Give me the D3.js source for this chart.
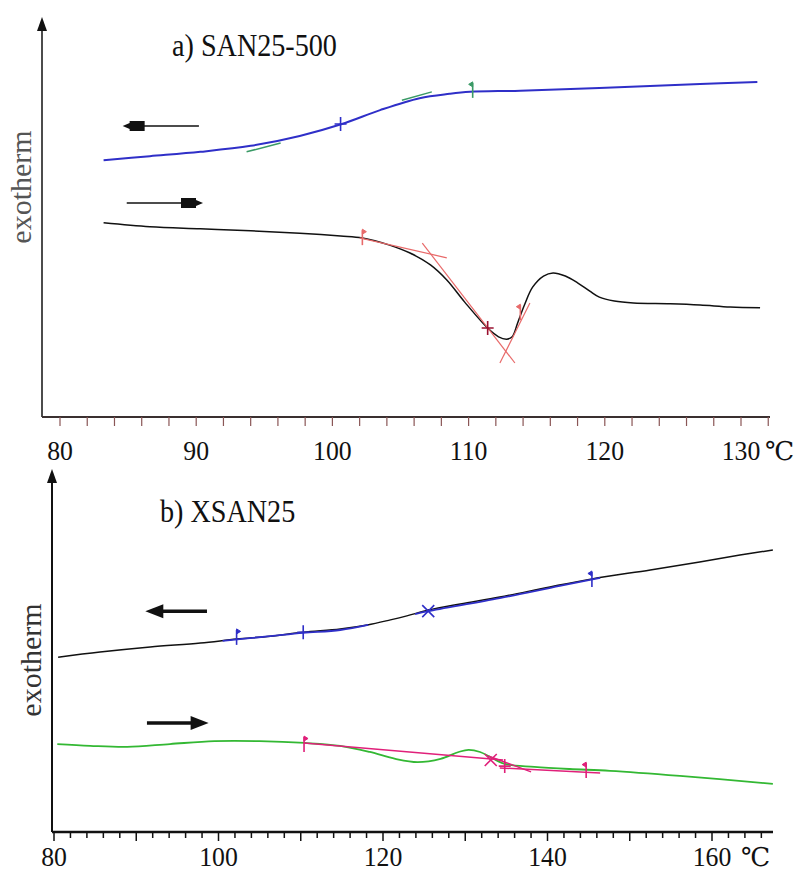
<!DOCTYPE html>
<html>
<head>
<meta charset="utf-8">
<script src="https://cdn.jsdelivr.net/npm/d3@7"></script>
<style>
body { margin: 0; background: #fff; }
svg { display: block; }
text { font-family: "Liberation Serif", "Times New Roman", "DejaVu Serif", serif; }
</style>
</head>
<body>
<svg id="chart" width="797" height="873"></svg>
<script>
// ---- a) SAN25-500 : [temperature °C, signal (arb.)] ----
var coolA = [[83.2,6.47],[86.6,6.57],[90.3,6.68],[94.0,6.83],[97.6,7.08],[100.7,7.38],[103.5,7.73],
             [106.4,8.03],[108.6,8.14],[110.1,8.19],[113.8,8.22],[119.6,8.29],[127.0,8.39],[131.2,8.44]];
var heatA = [[83.2,4.89],[86.6,4.79],[90.3,4.74],[94.0,4.69],[97.6,4.63],[100.6,4.56],[102.2,4.51],
             [104.2,4.33],[105.7,4.13],[107.2,3.83],[108.4,3.45],[109.7,2.90],[111.4,2.24],[112.2,2.02],
             [112.8,1.96],[113.2,2.02],[113.6,2.37],[114.1,2.82],[114.7,3.27],[115.5,3.55],[116.2,3.63],
             [117.1,3.55],[118.0,3.38],[118.9,3.17],[119.6,3.02],[120.7,2.92],[122.1,2.87],[124.8,2.85],
             [127.0,2.82],[129.2,2.77],[131.4,2.75]];
var tangentsA_green = [[[93.7,6.68],[96.2,6.90]], [[105.1,7.98],[107.3,8.19]]];
var tangentsA_red = [[[102.0,4.51],[108.4,4.01]], [[106.6,4.38],[113.4,1.36]], [[112.3,1.36],[114.5,2.87]]];
var markersA = [
    {t: 100.6, v: 7.38, type: 'plus', color: 'blue'},
    {t: 110.3, v: 8.24, type: 'flag', dir: -1, color: 'green'},
    {t: 102.2, v: 4.53, type: 'flag', dir: 1, color: 'red'},
    {t: 111.4, v: 2.24, type: 'plus', color: 'darkred'},
    {t: 113.8, v: 2.64, type: 'flag', dir: -1, color: 'red'}
];
var arrowsA = [{from: 90.2, to: 84.6, v: 7.33}, {from: 84.9, to: 90.5, v: 5.39}];
var ticksA = d3.range(80, 133, 2);
var labelsA = [80, 90, 100, 110, 120, 130];

// ---- b) XSAN25 ----
var coolB = [[80.5,4.83],[85.6,4.97],[91.7,5.11],[97.8,5.22],[102.2,5.33],[106.3,5.41],[110.3,5.52],
             [114.8,5.61],[118.1,5.72],[120.9,5.86],[122.9,5.97],[125.5,6.13],[129.4,6.30],[134.2,6.49],
             [140.3,6.77],[145.4,6.99],[152.5,7.24],[158.5,7.46],[163.4,7.65],[167.4,7.79]];
var heatB = [[80.4,2.43],[84.4,2.38],[88.9,2.35],[94.1,2.43],[99.5,2.51],[105.0,2.51],[110.5,2.46],
             [114.8,2.38],[118.4,2.21],[121.5,2.02],[124.2,1.93],[127.0,2.02],[129.2,2.21],[130.4,2.27],
             [131.8,2.21],[133.3,2.04],[134.8,1.88],[138.4,1.80],[142.7,1.74],[147.6,1.69],[156.1,1.55],
             [167.4,1.33]];
var fitsB_blue = [[[100.5,5.28],[106.3,5.41],[110.3,5.50],[114.8,5.58],[118.2,5.72]],
                  [[123.9,6.02],[125.5,6.10],[134.2,6.46],[141.5,6.80],[146.4,7.02]]];
var tangentsB_pink = [[[110.4,2.46],[134.6,1.99]], [[132.8,2.10],[138.0,1.66]], [[134.2,1.77],[146.4,1.63]]];
var markersB = [
    {t: 102.2, v: 5.39, type: 'flag', dir: 1, color: 'blue'},
    {t: 110.3, v: 5.52, type: 'plus', color: 'blue'},
    {t: 125.5, v: 6.10, type: 'cross', color: 'blue'},
    {t: 145.4, v: 6.99, type: 'flag', dir: -1, color: 'blue'},
    {t: 110.4, v: 2.43, type: 'flag', dir: 1, color: 'pink'},
    {t: 133.1, v: 1.99, type: 'cross', color: 'pink'},
    {t: 134.8, v: 1.82, type: 'plus', color: 'pink'},
    {t: 144.7, v: 1.71, type: 'flag', dir: -1, color: 'pink'}
];
var arrowsB = [{from: 98.6, to: 91.1, v: 6.10}, {from: 91.3, to: 98.8, v: 3.01}];
var ticksB = d3.range(80, 167, 2);
var labelsB = [80, 100, 120, 140, 160];

var colors = {
    blue: '#2f2fc8', green: '#3a9a66', red: '#e86a6a', darkred: '#9a1030',
    pink: '#e0207a', black: '#111', lime: '#33b833'
};
var serif = '"Liberation Serif", "Times New Roman", serif';

var svg = d3.select('#chart');

function drawPanel(o) {
    var g = svg.append('g');
    var x = d3.scaleLinear().domain(o.xDomain).range(o.xRange),
        y = d3.scaleLinear().domain([0, 10]).range(o.yRange);
    var line = d3.line().x(function (d) { return x(d[0]); }).y(function (d) { return y(d[1]); });
    var smooth = d3.line().curve(d3.curveCatmullRom.alpha(0.5))
                   .x(function (d) { return x(d[0]); }).y(function (d) { return y(d[1]); });
    var y0 = o.yRange[0];

    // y axis with arrow head
    g.append('line').attr('x1', o.axisLeft).attr('x2', o.axisLeft)
        .attr('y1', y0).attr('y2', o.yTop + 10)
        .attr('stroke', '#111').attr('stroke-width', o.yWidth);
    g.append('path')
        .attr('d', 'M' + o.axisLeft + ',' + o.yTop + 'l-5,14h10z')
        .attr('fill', '#111');

    // x axis
    g.append('line').attr('x1', o.axisLeft).attr('x2', o.axisRight)
        .attr('y1', y0).attr('y2', y0)
        .attr('stroke', o.axisColor).attr('stroke-width', o.xWidth);
    g.selectAll('.tick').data(o.ticks).enter().append('line')
        .attr('x1', function (d) { return x(d); }).attr('x2', function (d) { return x(d); })
        .attr('y1', y0)
        .attr('y2', function (d) { return y0 + (d % 10 === 0 ? o.majorLen : o.minorLen); })
        .attr('stroke', o.tickColor).attr('stroke-width', o.tickWidth);
    g.selectAll('.lab').data(o.labels).enter().append('text')
        .attr('transform', function (d) { return 'translate(' + x(d) + ',' + o.labelY + ') scale(0.92,1)'; })
        .attr('text-anchor', 'middle').attr('font-size', 28).attr('font-family', serif).attr('fill', '#111')
        .text(function (d) { return d; });
    g.append('text')
        .attr('x', x(o.labels[o.labels.length - 1]) + o.unitGap).attr('y', o.labelY)
        .attr('font-size', 26).attr('fill', '#111').text('\u2103');

    // title + y label
    g.append('text')
        .attr('transform', 'translate(' + o.titleX + ',' + o.titleY + ') scale(0.88,1)')
        .attr('font-size', 32).attr('font-family', serif).attr('fill', '#111').text(o.title);
    g.append('text')
        .attr('transform', 'translate(' + o.ylabX + ',' + o.ylabY + ') rotate(-90)')
        .attr('text-anchor', 'middle').attr('font-size', 30).attr('font-family', serif).attr('fill', o.ylabColor)
        .text('exotherm');

    // curves
    o.curves.forEach(function (c) {
        g.append('path').datum(c.data)
            .attr('d', c.straight ? line : smooth)
            .attr('fill', 'none').attr('stroke', colors[c.color])
            .attr('stroke-width', c.width).attr('stroke-linejoin', 'round');
    });

    // markers
    o.markers.forEach(function (m) {
        var px = x(m.t), py = y(m.v), d;
        if (m.type === 'plus') d = 'M' + (px - 6) + ',' + py + 'h12M' + px + ',' + (py - 7) + 'v14';
        else if (m.type === 'cross') d = 'M' + (px - 6) + ',' + (py - 6) + 'l12,12M' + (px + 6) + ',' + (py - 6) + 'l-12,12';
        else d = 'M' + px + ',' + (py - 7) + 'v15';
        g.append('path').attr('d', d).attr('fill', 'none')
            .attr('stroke', colors[m.color]).attr('stroke-width', 1.6);
        if (m.type === 'flag') {
            g.append('path')
                .attr('d', 'M' + px + ',' + (py - 8) + 'l' + (4 * m.dir) + ',2.5l' + (-4 * m.dir) + ',2.5z')
                .attr('fill', colors[m.color]).attr('stroke', colors[m.color]).attr('stroke-width', 1);
        }
    });

    // heating / cooling arrows
    o.arrows.forEach(function (a) {
        var x1 = x(a.from), x2 = x(a.to), py = y(a.v), dir = x2 > x1 ? 1 : -1, head;
        if (o.blockHeads) {
            head = 'M' + x2 + ',' + py + 'l' + (-7 * dir) + ',-3v-2h' + (-15 * dir) + 'v10h' + (15 * dir) + 'v-2z';
            g.append('line').attr('x1', x1).attr('x2', x2 - 20 * dir).attr('y1', py).attr('y2', py)
                .attr('stroke', '#111').attr('stroke-width', 1.5);
        } else {
            head = 'M' + x2 + ',' + py + 'l' + (-18 * dir) + ',-7v14z';
            g.append('line').attr('x1', x1).attr('x2', x2 - 16 * dir).attr('y1', py).attr('y2', py)
                .attr('stroke', '#111').attr('stroke-width', 3.5);
        }
        g.append('path').attr('d', head).attr('fill', '#111');
    });
}

drawPanel({
    xDomain: [80, 130], xRange: [60, 741], yRange: [417, 20],
    axisLeft: 42, axisRight: 770, yTop: 17, yWidth: 1.5, xWidth: 2,
    axisColor: '#3a3030', tickColor: '#8a5656', tickWidth: 1.2, majorLen: 9, minorLen: 9,
    ticks: ticksA, labels: labelsA, labelY: 460, unitGap: 24,
    title: 'a) SAN25-500', titleX: 172, titleY: 56,
    ylabX: 31, ylabY: 187, ylabColor: '#555',
    blockHeads: true,
    curves: [
        {data: coolA, color: 'blue', width: 2},
        {data: heatA, color: 'black', width: 1.5},
        {data: tangentsA_green[0], color: 'green', width: 1.5, straight: true},
        {data: tangentsA_green[1], color: 'green', width: 1.5, straight: true},
        {data: tangentsA_red[0], color: 'red', width: 1.2, straight: true},
        {data: tangentsA_red[1], color: 'red', width: 1.2, straight: true},
        {data: tangentsA_red[2], color: 'red', width: 1.2, straight: true}
    ],
    markers: markersA, arrows: arrowsA
});

drawPanel({
    xDomain: [80, 160], xRange: [54, 712], yRange: [832, 470],
    axisLeft: 52, axisRight: 773, yTop: 469, yWidth: 2, xWidth: 2.5,
    axisColor: '#111', tickColor: '#111', tickWidth: 1.5, majorLen: 9, minorLen: 6,
    ticks: ticksB, labels: labelsB, labelY: 866, unitGap: 29,
    title: 'b) XSAN25', titleX: 160, titleY: 522,
    ylabX: 41, ylabY: 660, ylabColor: '#333',
    blockHeads: false,
    curves: [
        {data: coolB, color: 'black', width: 1.5},
        {data: fitsB_blue[0], color: 'blue', width: 1.8},
        {data: fitsB_blue[1], color: 'blue', width: 1.8},
        {data: heatB, color: 'lime', width: 1.8},
        {data: tangentsB_pink[0], color: 'pink', width: 1.5, straight: true},
        {data: tangentsB_pink[1], color: 'pink', width: 1.5, straight: true},
        {data: tangentsB_pink[2], color: 'pink', width: 1.5, straight: true}
    ],
    markers: markersB, arrows: arrowsB
});
</script>
</body>
</html>
